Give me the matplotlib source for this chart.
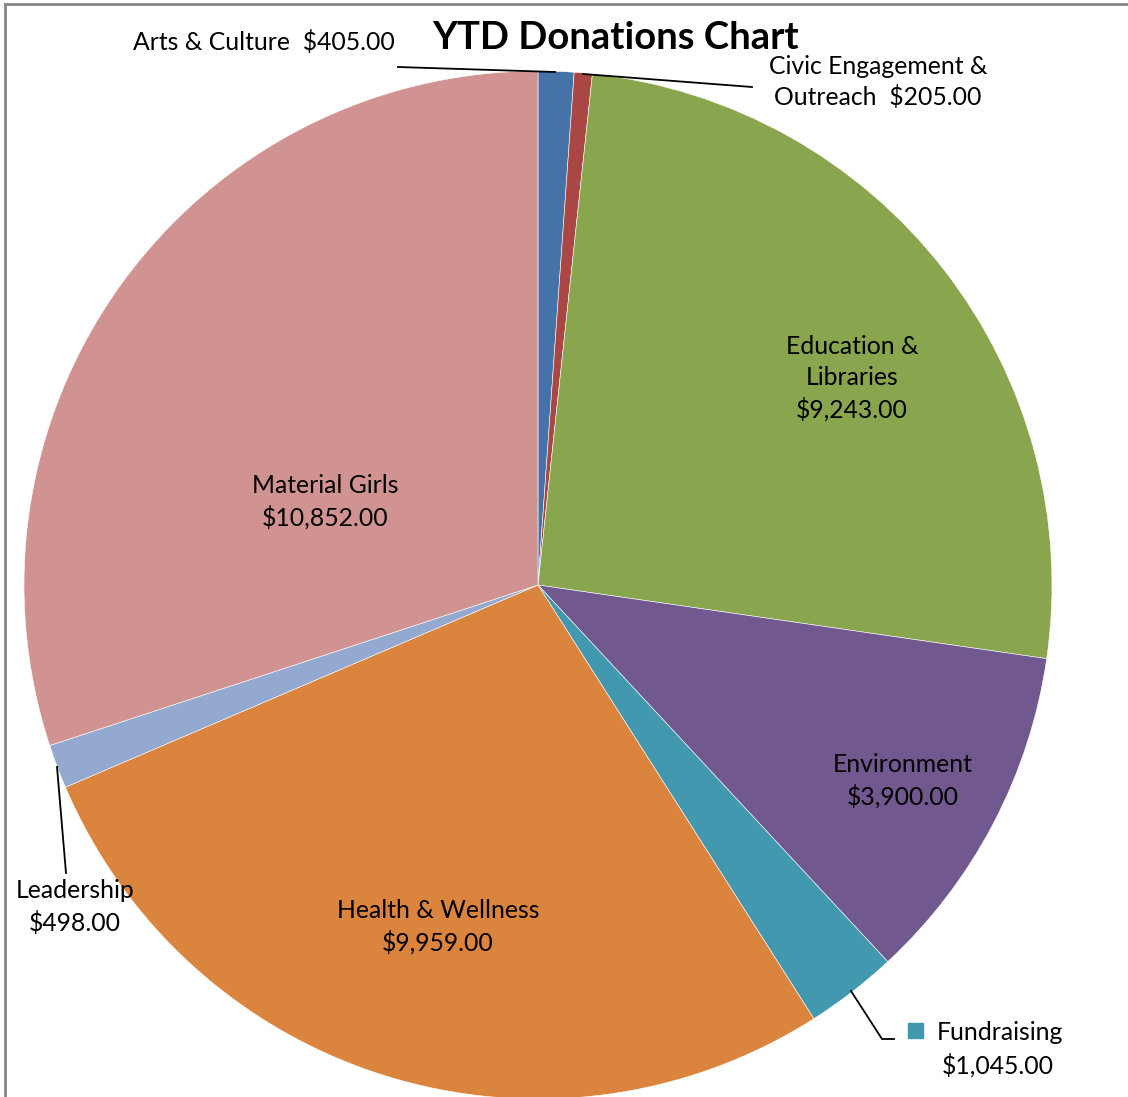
import matplotlib
matplotlib.use("Agg")
import matplotlib.pyplot as plt
from matplotlib.lines import Line2D
from matplotlib.patches import Rectangle

categories = ["Arts & Culture", "Civic Engagement &\nOutreach", "Education &\nLibraries",
              "Environment", "Fundraising", "Health & Wellness", "Leadership", "Material Girls"]
amounts = [405, 205, 9243, 3900, 1045, 9959, 498, 10852]
colors = ["#4572A7", "#AA4643", "#89A54E", "#71588F", "#4198AF", "#DB843D", "#93A9CF", "#D19392"]

W, H = 1128, 1097
FONT = ["Lato", "DejaVu Sans"]


def Y(y):                      # pixel row (from top) -> data y
    return H - y


def money(v):
    return f"${v:,.2f}"


fig = plt.figure(figsize=(W / 100, H / 100), dpi=100)
ax = fig.add_axes([0, 0, 1, 1])
ax.pie(amounts, colors=colors, startangle=90, counterclock=False,
       center=(538, Y(585)), radius=514,
       wedgeprops=dict(edgecolor="white", linewidth=0.4))
ax.set_xlim(0, W); ax.set_ylim(0, H); ax.set_aspect("equal")
ax.axis("off")

# chart frame (only top / left visible in the crop)
ax.add_line(Line2D([5, W], [Y(4), Y(4)], color="#868686", lw=2))
ax.add_line(Line2D([5, 5], [Y(4), 0], color="#868686", lw=2))

ax.text(616, Y(38), "YTD Donations Chart", ha="center", va="center",
        fontsize=27.5, fontweight="bold", family=FONT)

lab = dict(fontsize=17.8, family=FONT, linespacing=1.4, color="black")
# inside labels
ax.text(852, Y(378), f"{categories[2]}\n{money(amounts[2])}", ha="center", va="center", **lab)
ax.text(903, Y(781), f"{categories[3]}\n{money(amounts[3])}", ha="center", va="center", **lab)
ax.text(438, Y(927), f"{categories[5]}\n{money(amounts[5])}", ha="center", va="center", **lab)
ax.text(325, Y(502), f"{categories[7]}\n{money(amounts[7])}", ha="center", va="center", **lab)

# outside labels with leader lines
ax.text(395, Y(42), f"{categories[0]}  {money(amounts[0])}", ha="right", va="center", **lab)
ax.add_line(Line2D([398, 555], [Y(67), Y(72)], color="black", lw=1.3))

ax.text(878, Y(82), f"{categories[1]}  {money(amounts[1])}", ha="center", va="center", **lab)
ax.add_line(Line2D([583, 752], [Y(74), Y(87)], color="black", lw=1.3))

ax.text(75, Y(907), f"{categories[6]}\n{money(amounts[6])}", ha="center", va="center", **lab)
ax.add_line(Line2D([57, 66], [Y(767), Y(873)], color="black", lw=1.3))

ax.add_patch(Rectangle((908, Y(1038)), 15, 15, color=colors[4]))
ax.text(937, Y(1033), categories[4], ha="left", va="center", **lab)
ax.text(998, Y(1065), money(amounts[4]), ha="center", va="center", **lab)
ax.add_line(Line2D([851, 882, 894], [Y(991), Y(1039), Y(1039)], color="black", lw=1.3))

fig.savefig("out.png", dpi=100)
